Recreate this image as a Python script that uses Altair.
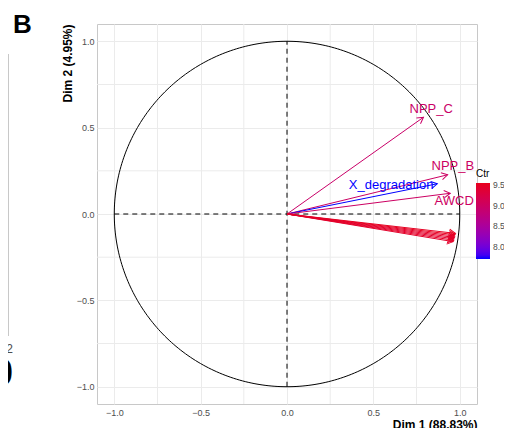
import altair as alt
import pandas as pd
import numpy as np

# ---- data ----
var_names = ["NPP_C", "NPP_B", "X_degradation", "AWCD",
             "V5", "V6", "V7", "V8", "V9", "V10", "V11"]
dim1 = [0.79, 0.93, 0.87, 0.945, 0.975, 0.973, 0.971, 0.969, 0.967, 0.965, 0.962]
dim2 = [0.56, 0.227, 0.175, 0.12, -0.112, -0.12, -0.128, -0.136, -0.144, -0.152, -0.16]
ctr = [8.95, 9.0, 7.71, 9.0, 9.5, 9.55, 9.45, 9.5, 9.4, 9.5, 9.45]
label_text = ["NPP_C", "NPP_B", "X_degradation", "AWCD", "", "", "", "", "", "", ""]
label_x = [0.835, 0.96, 0.603, 0.968, 0, 0, 0, 0, 0, 0, 0]
label_y = [0.61, 0.28, 0.169, 0.076, 0, 0, 0, 0, 0, 0, 0]

major_ticks = [-1.0, -0.5, 0.0, 0.5, 1.0]
minor_ticks = [-0.75, -0.25, 0.25, 0.75]
legend_ticks = [8.0, 8.5, 9.0, 9.5]

df = pd.DataFrame({"name": var_names, "dim1": dim1, "dim2": dim2, "ctr": ctr,
                   "x0": 0.0, "y0": 0.0})
df["ang"] = (np.degrees(np.arctan2(-df["dim2"], df["dim1"])) + 360) % 360
lab = pd.DataFrame({"label": label_text, "lx": label_x, "ly": label_y, "ctr": ctr})

theta = np.linspace(0, 2 * np.pi, 361)
circle = pd.DataFrame({"cx": np.cos(theta), "cy": np.sin(theta), "i": np.arange(361)})

FONT = "Liberation Sans"
xs = alt.Scale(domain=[-1.1, 1.1], nice=False, zero=False)
ys = alt.Scale(domain=[-1.1, 1.1], nice=False, zero=False)
xa = alt.Axis(values=major_ticks, format=".1f", title="Dim 1 (88.83%)", grid=True,
              gridColor="#ebebeb", ticks=False, domain=False, labelColor="#4d4d4d",
              labelFontSize=9, labelFont=FONT, labelPadding=4, titleFont=FONT,
              titleFontSize=12, titleFontWeight="bold", titleColor="black",
              titleAnchor="end", titleAlign="right", titleX=380, titleY=24,
              titleBaseline="alphabetic")
ya = alt.Axis(values=major_ticks, format=".1f", title="Dim 2 (4.95%)", grid=True,
              gridColor="#ebebeb", ticks=False, domain=False, labelColor="#4d4d4d",
              labelFontSize=9, labelFont=FONT, labelPadding=3, titleFont=FONT,
              titleFontSize=12, titleFontWeight="bold", titleColor="black",
              titleAngle=270, titleAlign="right", titleX=-30, titleY=0,
              titleBaseline="middle")

RANGE = ["#0000ff", "#e8001c"]
stroke_scale = alt.Scale(domain=[min(ctr), max(ctr)], range=RANGE, interpolate="lab")
fill_scale = alt.Scale(range=RANGE, interpolate="lab", nice=False, zero=False)

minor_df = pd.DataFrame({"v": minor_ticks})
grid_v = alt.Chart(minor_df).mark_rule(color="#ebebeb", strokeWidth=1).encode(
    x=alt.X("v:Q", scale=xs, axis=xa))
grid_h = alt.Chart(minor_df).mark_rule(color="#ebebeb", strokeWidth=1).encode(
    y=alt.Y("v:Q", scale=ys, axis=ya))

circ = alt.Chart(circle).mark_line(color="black", strokeWidth=1).encode(
    x=alt.X("cx:Q", scale=xs, axis=xa), y=alt.Y("cy:Q", scale=ys, axis=ya),
    order="i:Q")

ref_df = pd.DataFrame({"a": [-1.0], "b": [1.0], "z": [0.0]})
hdash = alt.Chart(ref_df).mark_rule(color="black", strokeWidth=1, strokeDash=[5, 4]).encode(
    x=alt.X("a:Q", scale=xs, axis=xa), x2="b:Q", y=alt.Y("z:Q", scale=ys, axis=ya))
vdash = alt.Chart(ref_df).mark_rule(color="black", strokeWidth=1, strokeDash=[5, 4]).encode(
    y=alt.Y("a:Q", scale=ys, axis=ya), y2="b:Q", x=alt.X("z:Q", scale=xs, axis=xa))

arrows = alt.Chart(df).mark_rule(strokeWidth=1).encode(
    x=alt.X("x0:Q", scale=xs, axis=xa), y=alt.Y("y0:Q", scale=ys, axis=ya),
    x2="dim1:Q", y2="dim2:Q",
    stroke=alt.Stroke("ctr:Q", scale=stroke_scale, legend=None))

heads = alt.Chart(df).mark_point(shape="M -1 -0.577 L 0 0 L -1 0.577", filled=False,
                                 strokeWidth=1, size=150, opacity=1).encode(
    x=alt.X("dim1:Q", scale=xs, axis=xa), y=alt.Y("dim2:Q", scale=ys, axis=ya),
    angle=alt.Angle("ang:Q", scale=None),
    stroke=alt.Stroke("ctr:Q", scale=stroke_scale, legend=None))

labels = alt.Chart(lab).mark_text(fontSize=13, font=FONT).encode(
    x=alt.X("lx:Q", scale=xs, axis=xa), y=alt.Y("ly:Q", scale=ys, axis=ya),
    text="label:N",
    fill=alt.Fill("ctr:Q", scale=fill_scale,
                  legend=alt.Legend(type="gradient", title="Ctr", orient="none",
                                    legendX=379, legendY=145, direction="vertical",
                                    gradientLength=76, gradientThickness=14,
                                    gradientStrokeWidth=0, values=legend_ticks,
                                    format=".1f", labelFontSize=8.5, labelFont=FONT,
                                    labelOffset=3,
                                    labelColor="#4d4d4d", titleFont=FONT,
                                    titleFontSize=10, titleFontWeight="normal",
                                    titleColor="black", titlePadding=4)))

# ---- decorations: panel letter and fragment of neighbouring panel ----
one = pd.DataFrame({"k": [0]})
letter = alt.Chart(one).mark_text(text="B", fontSize=26, fontWeight="bold", font=FONT,
                                  align="left", baseline="alphabetic", color="black").encode(
    x=alt.value(-84), y=alt.value(9))
frag_v = alt.Chart(one).mark_rule(color="#c8c8c8", strokeWidth=1).encode(
    x=alt.value(-88.5), y=alt.value(30), y2=alt.value(309))
frag_tick = alt.Chart(one).mark_rule(color="#c8c8c8", strokeWidth=1).encode(
    x=alt.value(-88.5), y=alt.value(309), y2=alt.value(312))
frag_lab = alt.Chart(one).mark_text(text="12", fontSize=12, font=FONT, align="right",
                                    baseline="alphabetic", color="#4d4d4d").encode(
    x=alt.value(-84), y=alt.value(329))
frag_big = alt.Chart(one).mark_text(text="0", fontSize=36, font=FONT, fontWeight="bold",
                                    align="right", baseline="alphabetic", color="black").encode(
    x=alt.value(-84), y=alt.value(361))

chart = alt.layer(
    grid_v, grid_h, circ, hdash, vdash, arrows, heads, labels,
    letter, frag_v, frag_tick, frag_lab, frag_big
).properties(
    width=380, height=380,
    autosize=alt.AutoSizeParams(type="none"),
    padding={"left": 89, "top": 16, "right": 27, "bottom": 24},
).configure_view(stroke="#c8c8c8", strokeWidth=1)

chart.save("out.html", embed_options={"renderer": "svg", "actions": False})
